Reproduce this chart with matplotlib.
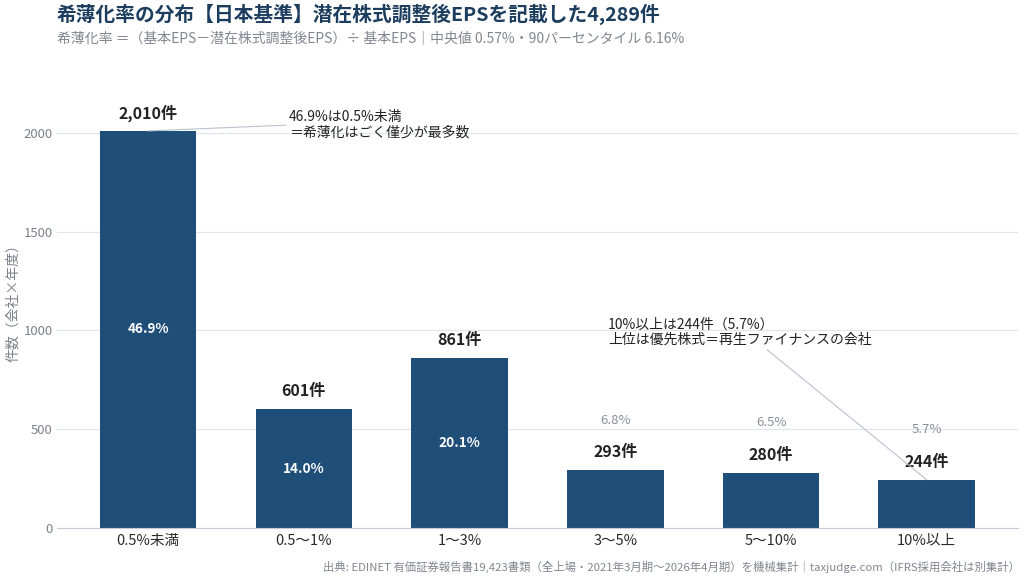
import matplotlib
matplotlib.use("Agg")
import matplotlib.pyplot as plt

plt.rcParams['font.family'] = ['Noto Sans CJK JP', 'DejaVu Sans']

# buckets of dilution rate
categories = ['0.5%未満', '0.5〜1%', '1〜3%', '3〜5%', '5〜10%', '10%以上']
counts = [2010, 601, 861, 293, 280, 244]
shares = [46.9, 14.0, 20.1, 6.8, 6.5, 5.7]

title = '希薄化率の分布【日本基準】潜在株式調整後EPSを記載した4,289件'
subtitle = '希薄化率 ＝（基本EPS－潜在株式調整後EPS）÷ 基本EPS｜中央値 0.57%・90パーセンタイル 6.16%'
footer = '出典: EDINET 有価証券報告書19,423書類（全上場・2021年3月期〜2026年4月期）を機械集計｜taxjudge.com（IFRS採用会社は別集計）'
note1 = '46.9%は0.5%未満\n＝希薄化はごく僅少が最多数'
note2 = '10%以上は244件（5.7%）\n上位は優先株式＝再生ファイナンスの会社'

bar_color = '#1f4e79'
grid_color = '#dfe5ec'
line_color = '#b9c3ce'

fig = plt.figure(figsize=(10.24, 5.78), dpi=100)
ax = fig.add_axes([0.0557, 0.0865, 0.9383, 0.769])

x = list(range(len(categories)))
ax.bar(x, counts, width=0.62, color=bar_color, zorder=2)

ax.set_xlim(-0.585, 5.585)
ax.set_ylim(0, 2250)
ax.set_yticks([0, 500, 1000, 1500, 2000])
ax.yaxis.grid(True, color=grid_color, lw=0.8, zorder=0)
ax.set_xticks(x)
ax.set_xticklabels(categories, fontsize=10.5, color='#2b2b2b')
ax.tick_params(axis='x', length=0, pad=4)
ax.tick_params(axis='y', length=0, labelsize=9.5, labelcolor='#7a818b', pad=3)
for s in ['top', 'right', 'left']:
    ax.spines[s].set_visible(False)
ax.spines['bottom'].set_color('#c3cbd6')
fig.text(0.013, 0.482, '件数（会社×年度）', rotation=90, ha='center', va='center',
         fontsize=10, color='#7a818b')

for i, (c, p) in enumerate(zip(counts, shares)):
    ax.annotate(f'{c:,}件', (i, c), xytext=(0, 13), textcoords='offset points',
                ha='center', va='center', fontsize=11.5, fontweight='bold', color='#222222')
    if c > 500:
        ax.text(i, c / 2, f'{p:.1f}%', ha='center', va='center', fontsize=9.8,
                fontweight='bold', color='white', zorder=3)
    else:
        ax.annotate(f'{p:.1f}%', (i, c), xytext=(0, 36), textcoords='offset points',
                    ha='center', va='center', fontsize=9.5, color='#8a9099')

ax.annotate(note1, xy=(0, counts[0]), xytext=(0.905, 2040), ha='left', va='center',
            fontsize=10, color='#222222', linespacing=1.15,
            arrowprops=dict(arrowstyle='-', color=line_color, lw=0.8,
                            shrinkA=0, shrinkB=0, relpos=(0, 0.5)))
ax.annotate(note2, xy=(5, counts[5]), xytext=(2.953, 992), ha='left', va='center',
            fontsize=10, color='#222222', linespacing=1.15,
            arrowprops=dict(arrowstyle='-', color=line_color, lw=0.8,
                            shrinkA=0, shrinkB=0, relpos=(0.59, 0)))

fig.text(0.0557, 0.975, title, ha='left', va='center', fontsize=14.2,
         fontweight='bold', color='#1c3d5e')
fig.text(0.0557, 0.933, subtitle, ha='left', va='center', fontsize=10, color='#80878f')
fig.text(0.996, 0.02, footer, ha='right', va='center', fontsize=8.2, color='#80878f')

fig.savefig('out.png', dpi=100)
